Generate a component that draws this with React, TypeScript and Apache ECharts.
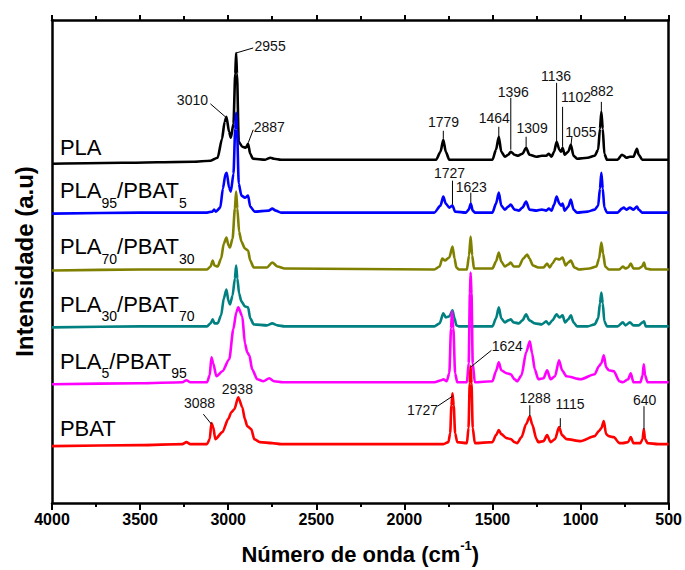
import React, { useEffect, useRef } from "react";
import * as echarts from "echarts";

const FONT = "Liberation Sans, Arial, Helvetica, sans-serif";

const xTicks = [4000, 3500, 3000, 2500, 2000, 1500, 1000, 500];

const seriesNames = ["PLA", "PLA95/PBAT5", "PLA70/PBAT30", "PLA30/PBAT70", "PLA5/PBAT95", "PBAT"];
const seriesColors = ["#000000", "#0000ff", "#808000", "#008080", "#ff00ff", "#ff0000"];

const pla: number[][] = [
  [4000, 340], [3600, 341], [3200, 342], [3100, 343], [3060, 346], [3035, 365], [3020, 382], [3010, 387],
  [2995, 372], [2985, 366], [2970, 380], [2960, 430], [2955, 451], [2950, 430], [2940, 362], [2920, 357],
  [2900, 356], [2887, 360], [2875, 350], [2860, 345], [2790, 344], [2760, 346], [2740, 345], [2700, 344],
  [2000, 344], [1820, 344], [1795, 352], [1779, 364], [1765, 352], [1745, 344], [1500, 344], [1480, 354],
  [1464, 367], [1450, 352], [1430, 347], [1410, 349], [1396, 352], [1375, 349], [1355, 348], [1330, 350],
  [1309, 356], [1290, 349], [1250, 347], [1220, 348], [1195, 348], [1180, 350], [1165, 347], [1150, 352],
  [1136, 362], [1120, 354], [1110, 352], [1102, 356], [1090, 349], [1070, 352], [1055, 359], [1040, 348],
  [1020, 345], [960, 346], [920, 348], [900, 354], [890, 375], [882, 392], [874, 375], [865, 350],
  [850, 344], [790, 344], [765, 349], [755, 348], [740, 346], [720, 347], [700, 347], [680, 355],
  [670, 349], [650, 344], [500, 344],
];

const pla95: number[][] = [
  [4000, 290], [3500, 291], [3120, 291], [3090, 292], [3080, 294], [3070, 292], [3045, 296], [3030, 315],
  [3015, 330], [3008, 331], [2995, 316], [2985, 312], [2970, 330], [2960, 375], [2955, 391], [2950, 375],
  [2940, 320], [2925, 308], [2905, 306], [2887, 308], [2875, 297], [2850, 292], [2770, 293], [2750, 295],
  [2730, 293], [2700, 291], [1830, 291], [1795, 298], [1779, 307], [1765, 300], [1745, 296], [1727, 298],
  [1712, 292], [1650, 291], [1635, 294], [1623, 300], [1612, 293], [1600, 291], [1500, 291], [1480, 300],
  [1464, 311], [1450, 298], [1430, 294], [1410, 297], [1396, 299], [1375, 294], [1350, 293], [1330, 296],
  [1309, 302], [1290, 294], [1250, 293], [1220, 294], [1195, 293], [1180, 295], [1165, 293], [1150, 299],
  [1136, 307], [1120, 300], [1110, 298], [1102, 300], [1090, 293], [1070, 297], [1055, 304], [1040, 294],
  [1020, 291], [960, 292], [920, 294], [900, 298], [890, 315], [882, 331], [874, 315], [865, 296],
  [850, 291], [790, 291], [765, 295], [755, 296], [740, 294], [720, 296], [700, 294], [680, 297],
  [670, 294], [650, 291], [500, 291],
];

const pla70: number[][] = [
  [4000, 233], [3500, 234], [3120, 234], [3100, 237], [3088, 243], [3078, 238], [3060, 237], [3040, 245],
  [3025, 260], [3010, 266], [2998, 258], [2990, 256], [2975, 265], [2962, 295], [2955, 312], [2948, 295],
  [2938, 272], [2925, 262], [2905, 255], [2887, 253], [2875, 243], [2855, 236], [2780, 236], [2750, 241],
  [2720, 237], [2680, 235], [1830, 234], [1800, 237], [1785, 245], [1770, 243], [1745, 246], [1727, 257],
  [1715, 245], [1705, 236], [1690, 234], [1645, 234], [1633, 248], [1624, 267], [1615, 248], [1605, 235],
  [1500, 235], [1480, 242], [1464, 251], [1450, 242], [1430, 237], [1410, 239], [1396, 241], [1380, 237],
  [1350, 237], [1325, 245], [1303, 249], [1290, 245], [1270, 238], [1240, 236], [1210, 236], [1190, 240],
  [1175, 236], [1160, 240], [1140, 245], [1120, 244], [1102, 246], [1085, 238], [1070, 241], [1055, 243],
  [1035, 236], [1010, 234], [950, 235], [910, 237], [895, 245], [882, 261], [872, 250], [860, 237],
  [840, 234], [780, 234], [760, 237], [745, 235], [730, 236], [715, 240], [700, 235], [670, 235],
  [650, 237], [640, 241], [630, 235], [600, 234], [500, 234],
];

const pla30: number[][] = [
  [4000, 176], [3500, 177], [3120, 177], [3100, 180], [3088, 184], [3078, 180], [3060, 180], [3040, 188],
  [3025, 205], [3010, 214], [2998, 202], [2990, 199], [2975, 208], [2962, 225], [2955, 238], [2948, 225],
  [2938, 210], [2925, 202], [2905, 197], [2887, 196], [2875, 185], [2855, 179], [2780, 178], [2750, 180],
  [2720, 178], [2680, 177], [1830, 177], [1800, 180], [1779, 190], [1765, 186], [1745, 187], [1727, 193],
  [1715, 185], [1705, 178], [1690, 177], [1500, 177], [1480, 185], [1464, 196], [1450, 185], [1430, 181],
  [1410, 183], [1396, 184], [1380, 181], [1350, 180], [1330, 183], [1309, 189], [1290, 183], [1260, 180],
  [1220, 179], [1195, 182], [1180, 179], [1160, 183], [1136, 189], [1120, 186], [1102, 188], [1088, 181],
  [1070, 184], [1055, 188], [1040, 181], [1020, 177], [960, 177], [920, 179], [900, 185], [890, 200],
  [882, 211], [874, 200], [865, 182], [850, 177], [790, 177], [760, 181], [745, 178], [720, 181],
  [700, 178], [670, 178], [648, 181], [640, 182], [630, 177], [500, 177],
];

const pla5: number[][] = [
  [4000, 119], [3500, 120], [3260, 121], [3237, 123], [3215, 121], [3120, 121], [3105, 128], [3095, 146],
  [3085, 140], [3067, 127], [3033, 132], [2994, 144], [2971, 174], [2954, 191], [2943, 196], [2920, 187],
  [2905, 160], [2892, 151], [2880, 148], [2864, 134], [2835, 124], [2800, 122], [2767, 125], [2740, 122],
  [2690, 121], [1830, 121], [1790, 123], [1779, 124], [1760, 122], [1745, 130], [1735, 175], [1730, 192],
  [1722, 175], [1712, 130], [1700, 121], [1645, 121], [1635, 140], [1628, 210], [1624, 231], [1619, 210],
  [1612, 140], [1600, 121], [1500, 122], [1480, 132], [1464, 141], [1450, 133], [1420, 130], [1396, 129],
  [1375, 124], [1360, 122], [1335, 128], [1309, 151], [1288, 162], [1275, 150], [1260, 134], [1240, 124],
  [1210, 125], [1190, 133], [1170, 124], [1145, 127], [1122, 143], [1105, 133], [1080, 127], [1000, 124],
  [920, 129], [896, 137], [882, 140], [868, 148], [855, 136], [840, 133], [811, 132], [780, 122],
  [760, 121], [730, 124], [715, 130], [700, 121], [660, 121], [648, 128], [641, 139], [634, 128],
  [620, 121], [560, 121], [500, 121],
];

const pbat: number[][] = [
  [4000, 57], [3500, 58], [3260, 59], [3237, 61], [3215, 59], [3120, 59], [3105, 64], [3095, 80],
  [3085, 76], [3073, 64], [3033, 71], [3000, 84], [2982, 91], [2965, 94], [2943, 106], [2920, 96],
  [2905, 84], [2892, 77], [2869, 74], [2852, 64], [2820, 61], [2750, 60], [2700, 59], [1830, 59],
  [1779, 59], [1750, 61], [1740, 70], [1733, 98], [1727, 110], [1720, 98], [1712, 70], [1700, 61],
  [1645, 60], [1636, 75], [1629, 120], [1624, 137], [1619, 120], [1612, 75], [1600, 60], [1500, 61],
  [1480, 68], [1464, 73], [1450, 69], [1420, 65], [1396, 64], [1375, 61], [1360, 60], [1335, 66],
  [1309, 79], [1288, 87], [1275, 79], [1250, 64], [1240, 61], [1210, 62], [1190, 68], [1170, 61],
  [1145, 64], [1122, 76], [1105, 68], [1080, 64], [1000, 62], [920, 67], [896, 72], [882, 75],
  [868, 82], [855, 69], [840, 67], [811, 66], [780, 60], [760, 60], [730, 61], [715, 66],
  [700, 60], [660, 60], [648, 64], [641, 74], [634, 64], [620, 60], [560, 59], [500, 59],
];

const spectra = [pla, pla95, pla70, pla30, pla5, pbat];

// series name labels: rich text, anchor [wavenumber, intensity]
const nameLabels = [
  "{m|PLA}",
  "{m|PLA}{s|95}{m|/PBAT}{s|5}",
  "{m|PLA}{s|70}{m|/PBAT}{s|30}",
  "{m|PLA}{s|30}{m|/PBAT}{s|70}",
  "{m|PLA}{s|5}{m|/PBAT}{s|95}",
  "{m|PBAT}",
];
const nameLabelPos: number[][] = [
  [3955, 352], [3955, 309], [3955, 253], [3955, 195], [3955, 138], [3955, 71],
];

// peak annotations: text, text anchor [w, v], leader line [w1, v1, w2, v2]
const peakTexts = [
  "2955", "3010", "2887", "1779", "1464", "1396", "1309", "1136", "1102", "882", "1055",
  "1727", "1623", "1624", "1727", "1288", "1115", "640", "3088", "2938",
];
const peakTextPos: number[][] = [
  [2762, 458], [3203, 404], [2767, 377], [1778, 382], [1490, 386], [1382, 412], [1275, 376],
  [1139, 428], [1026, 407], [879, 413], [998, 372], [1744, 331], [1620, 317], [1416, 157],
  [1897, 93], [1258, 105], [1060, 99], [636, 103], [3163, 100], [2948, 114],
];
const peakLeaders: (number[] | null)[] = [
  [2954, 451, 2858, 456], [3101, 400, 3016, 387], [2858, 374, 2886, 361], [1779, 373, 1779, 365],
  [1464, 377, 1464, 367], [1396, 406, 1396, 354], [1309, 367, 1309, 357], [1136, 421, 1136, 362],
  [1102, 397, 1102, 357], [882, 402, 882, 392], [1049, 367, 1054, 359], [1727, 323, 1727, 299],
  [1623, 311, 1623, 301], [1506, 153, 1625, 136], [1812, 97, 1727, 107], [1288, 98, 1288, 87],
  [1115, 85, 1115, 76], [640, 97, 640, 74], [3141, 89, 3095, 79], null,
];

export default function App() {
  const ref = useRef<HTMLDivElement>(null);
  useEffect(() => {
    if (!ref.current) return;
    const chart = echarts.init(ref.current, null, { renderer: "svg" });

    const lineSeries = spectra.map((d, i) => ({
      name: seriesNames[i],
      type: "line",
      data: d,
      showSymbol: false,
      smooth: 0.25,
      smoothMonotone: "x",
      lineStyle: { width: 2.6, color: seriesColors[i] },
      itemStyle: { color: seriesColors[i] },
      silent: true,
      z: 2 + i,
    }));

    const nameSeries = {
      type: "custom",
      silent: true,
      clip: false,
      z: 20,
      data: nameLabelPos.map((p, i) => [p[0], p[1], i]),
      encode: { x: 0, y: 1 },
      renderItem: (_params: any, api: any) => {
        const i = api.value(2);
        const pt = api.coord([api.value(0), api.value(1)]);
        return {
          type: "text",
          x: pt[0],
          y: pt[1],
          style: {
            text: nameLabels[i],
            align: "left",
            verticalAlign: "middle",
            fill: "#000",
            rich: {
              m: { fontSize: 22, fontFamily: FONT, lineHeight: 30, verticalAlign: "top", fill: "#000" },
              s: { fontSize: 14, fontFamily: FONT, lineHeight: 14, verticalAlign: "bottom", fill: "#000" },
            },
          },
        };
      },
    };

    const peakSeries = {
      type: "custom",
      silent: true,
      clip: false,
      z: 21,
      data: peakTextPos.map((p, i) => [p[0], p[1], i]),
      encode: { x: 0, y: 1 },
      renderItem: (_params: any, api: any) => {
        const i = api.value(2);
        const pt = api.coord([api.value(0), api.value(1)]);
        const children: any[] = [
          {
            type: "text",
            x: pt[0],
            y: pt[1],
            style: {
              text: peakTexts[i],
              align: "center",
              verticalAlign: "middle",
              fontSize: 14,
              fontFamily: FONT,
              fill: "#111",
            },
          },
        ];
        const l = peakLeaders[i];
        if (l) {
          const a = api.coord([l[0], l[1]]);
          const b = api.coord([l[2], l[3]]);
          children.push({
            type: "line",
            shape: { x1: a[0], y1: a[1], x2: b[0], y2: b[1] },
            style: { stroke: "#000", lineWidth: 1 },
          });
        }
        return { type: "group", children };
      },
    };

    chart.setOption({
      animation: false,
      backgroundColor: "#ffffff",
      grid: { left: 52, right: 14, top: 20, bottom: 66, containLabel: false },
      xAxis: [
        {
          type: "value",
          inverse: true,
          min: xTicks[xTicks.length - 1],
          max: xTicks[0],
          interval: 500,
          position: "bottom",
          name: "{t|Número de onda (cm}{sup|-1}{t|)}",
          nameLocation: "middle",
          nameGap: 36,
          nameTextStyle: {
            rich: {
              t: { fontSize: 22, fontWeight: "bold", fontFamily: FONT, color: "#000", lineHeight: 26, verticalAlign: "bottom" },
              sup: { fontSize: 13, fontWeight: "bold", fontFamily: FONT, color: "#000", lineHeight: 14, verticalAlign: "top" },
            },
          },
          axisLine: { show: true, onZero: false, lineStyle: { color: "#000", width: 2.5 } },
          axisTick: { show: true, inside: false, length: 7, lineStyle: { color: "#000", width: 2 } },
          minorTick: { show: true, splitNumber: 2, length: 4, lineStyle: { color: "#000", width: 2 } },
          axisLabel: {
            show: true,
            margin: 8,
            fontSize: 16,
            fontWeight: "bold",
            fontFamily: FONT,
            color: "#000",
            formatter: (v: number) => String(v),
          },
          splitLine: { show: false },
        },
        {
          type: "value",
          inverse: true,
          min: xTicks[xTicks.length - 1],
          max: xTicks[0],
          interval: 500,
          position: "top",
          axisLine: { show: true, onZero: false, lineStyle: { color: "#000", width: 2.5 } },
          axisTick: { show: true, inside: false, length: 5, lineStyle: { color: "#000", width: 2 } },
          minorTick: { show: true, splitNumber: 2, length: 4, lineStyle: { color: "#000", width: 2 } },
          axisLabel: { show: false },
          splitLine: { show: false },
        },
      ],
      yAxis: [
        {
          type: "value",
          min: 0,
          max: 484,
          position: "left",
          name: "Intensidade (a.u)",
          nameLocation: "middle",
          nameRotate: 90,
          nameGap: 16,
          nameTextStyle: { fontSize: 24, fontWeight: "bold", fontFamily: FONT, color: "#000" },
          axisLine: { show: true, onZero: false, lineStyle: { color: "#000", width: 2.5 } },
          axisTick: { show: false },
          axisLabel: { show: false },
          splitLine: { show: false },
        },
        {
          type: "value",
          min: 0,
          max: 484,
          position: "right",
          axisLine: { show: true, onZero: false, lineStyle: { color: "#000", width: 2.5 } },
          axisTick: { show: false },
          axisLabel: { show: false },
          splitLine: { show: false },
        },
      ],
      series: [...lineSeries, nameSeries, peakSeries],
    });

    return () => chart.dispose();
  }, []);

  return <div ref={ref} style={{ position: "absolute", left: 0, top: 0, width: 685, height: 570 }} />;
}
